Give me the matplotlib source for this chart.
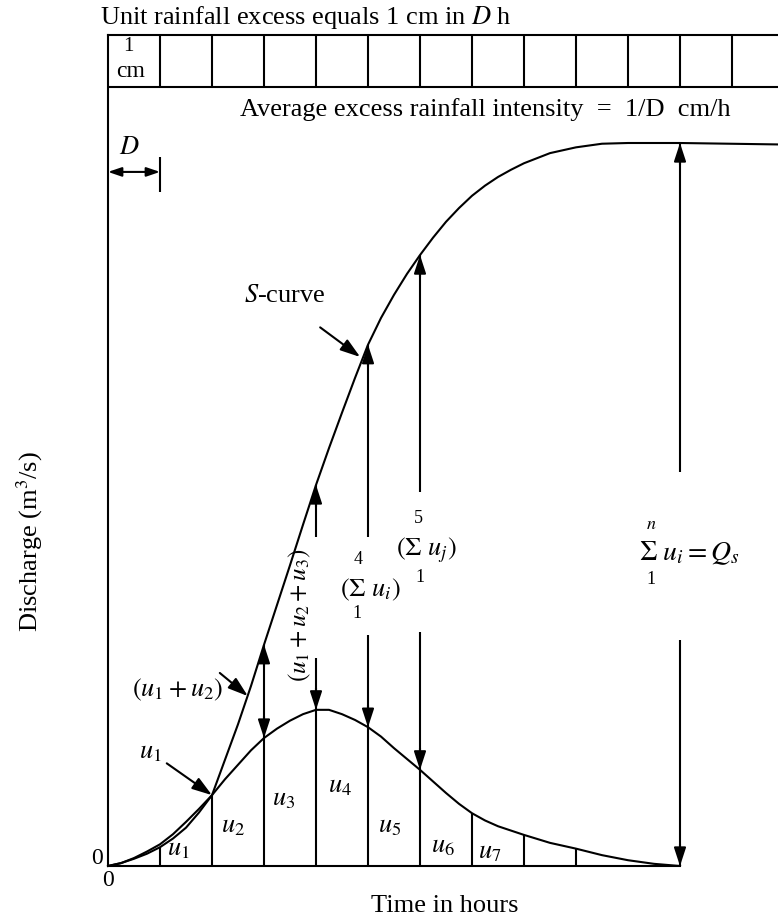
import matplotlib.pyplot as plt

plt.rcParams['font.family'] = ['Liberation Serif', 'DejaVu Serif']
plt.rcParams['mathtext.fontset'] = 'stix'

# time in multiples of the unit duration D
t = [0, 0.25, 0.5, 0.75, 1, 1.25, 1.5, 1.75, 2, 2.25, 2.5, 2.75, 3, 3.25,
     3.5, 3.75, 4, 4.25, 4.5, 4.75, 5, 5.25, 5.5, 5.75, 6, 6.25, 6.5, 6.75,
     7, 7.25, 7.5, 7.75, 8, 8.5, 9, 9.5, 10, 10.5, 11]
# D-h unit hydrograph ordinates (S-curve plateau Qs = 100)
uh = [0, 0.4, 1.0, 1.7, 2.6, 3.8, 5.3, 7.4, 9.8, 12.0, 14.0, 16.0, 17.7, 19.0,
      20.1, 21.0, 21.6, 21.6, 21.0, 20.2, 19.2, 17.9, 16.3, 14.8, 13.3, 11.7,
      10.1, 8.6, 7.3, 6.3, 5.5, 4.9, 4.3, 3.2, 2.4, 1.5, 0.8, 0.3, 0]
# S-curve ordinates, carried on past the end of the unit hydrograph
t_s = t + [12.9]
s_curve = [0, 0.4, 1.1, 2.0, 3.0, 4.4, 6.1, 7.9, 9.8, 14.7, 19.6, 24.9, 30.6,
           36.1, 41.6, 47.2, 52.7, 57.8, 62.7, 67.5, 72.1, 75.8, 79.0, 81.9,
           84.5, 86.9, 89.1, 91.0, 92.7, 94.1, 95.3, 96.3, 97.2, 98.6, 99.4,
           99.9, 100, 100, 100, 99.8]

uh_at = dict(zip(t, uh))
s_at = dict(zip(t_s, s_curve))

n_blocks = 13
strip_bottom = 107.7
lw = 1.5

fig = plt.figure(figsize=(7.78, 9.18), dpi=100)
ax = fig.add_axes([108 / 778, 52 / 918, 670 / 778, 831 / 918])
ax.set_xlim(0, 670 / 52)
ax.set_ylim(0, 831 / 7.23)
ax.set_xticks([])
ax.set_yticks([])
ax.spines['right'].set_visible(False)
for side in ['left', 'top', 'bottom']:
    ax.spines[side].set_linewidth(lw)
ax.spines['bottom'].set_bounds(0, 11)

# rainfall blocks of 1 cm in D h
ax.axhline(strip_bottom, color='k', lw=lw)
ax.vlines(range(1, n_blocks), strip_bottom, ax.get_ylim()[1], color='k', lw=lw)

# curves
ax.plot(t, uh, color='k', lw=lw)
ax.plot(t_s, s_curve, color='k', lw=lw, clip_on=False)

head_style = '-|>,head_length=0.55,head_width=0.18'


def head(x, y, up=True):
    ax.annotate('', xy=(x, y), xytext=(x, y - 3 if up else y + 3),
                arrowprops=dict(arrowstyle=head_style, color='k', lw=lw,
                                mutation_scale=20, shrinkA=0, shrinkB=0))


# plain ordinates of the unit hydrograph
for k in [1, 2, 7, 8, 9]:
    ax.vlines(k, 0, uh_at[k], color='k', lw=lw)

# S-curve ordinates, broken where the sum labels sit
ax.vlines(3, 0, s_at[3], color='k', lw=lw)
gaps = {4: (28.8, 45.5), 5: (32.0, 45.5), 6: (32.4, 51.7)}
for k, (lo, hi) in gaps.items():
    ax.vlines(k, 0, lo, color='k', lw=lw)
    ax.vlines(k, hi, s_at[k], color='k', lw=lw)
for k in [3, 4, 5, 6]:
    head(k, s_at[k], up=True)
    head(k, uh_at[k], up=False)

# total ordinate Qs
ax.vlines(11, 54.5, s_at[11], color='k', lw=lw)
ax.vlines(11, 0, 31.3, color='k', lw=lw)
head(11, s_at[11], up=True)
head(11, 0, up=False)

# D dimension
ax.annotate('', xy=(0, 96.0), xytext=(1, 96.0),
            arrowprops=dict(arrowstyle='<|-|>,head_length=0.5,head_width=0.17',
                            color='k', lw=lw, mutation_scale=16,
                            shrinkA=0, shrinkB=0))
ax.vlines(1, 93.2, 98.1, color='k', lw=lw)

# pointer arrows
pointers = [((4.08, 74.5), (4.85, 70.4)),
            ((2.15, 26.7), (2.69, 23.5)),
            ((1.13, 14.2), (2.0, 9.8))]
for tail, tip in pointers:
    ax.annotate('', xy=tip, xytext=tail,
                arrowprops=dict(arrowstyle=head_style, color='k', lw=lw,
                                mutation_scale=22, shrinkA=0, shrinkB=0))

fs = 19
ax.text(-0.154, 117.4, r'Unit rainfall excess equals 1 cm in $D$ h',
        fontsize=fs, ha='left', va='center')
ax.text(0.40, 113.4, '1', fontsize=15, ha='center', va='center')
ax.text(0.44, 109.9, 'cm', fontsize=17, ha='center', va='center')
ax.text(2.54, 104.6, 'Average excess rainfall intensity  =  1/D  cm/h',
        fontsize=fs, ha='left', va='center')
ax.text(0.42, 99.3, r'$D$', fontsize=fs, ha='center', va='center')

ax.text(3.40, 78.8, r'$S$-curve', fontsize=fs, ha='center', va='center')
ax.text(1.33, 24.3, r'$(u_1 + u_2)$', fontsize=fs, ha='center', va='center')
ax.text(0.81, 15.6, r'$u_1$', fontsize=fs, ha='center', va='center')
ax.text(3.69, 34.7, r'$(u_1 + u_2 + u_3)$', fontsize=18, rotation=90,
        ha='center', va='center')

# sum labels
ax.text(4.81, 42.4, '4', fontsize=13, ha='center', va='center')
ax.text(5.04, 38.2, r'$(\Sigma\ u_i)$', fontsize=fs, ha='center', va='center')
ax.text(4.79, 34.9, '1', fontsize=13, ha='center', va='center')
ax.text(5.96, 48.0, '5', fontsize=13, ha='center', va='center')
ax.text(6.13, 43.7, r'$(\Sigma\ u_j)$', fontsize=fs, ha='center', va='center')
ax.text(6.00, 39.9, '1', fontsize=13, ha='center', va='center')
ax.text(10.44, 47.3, r'$n$', fontsize=13, ha='center', va='center')
ax.text(10.22, 43.3, r'$\Sigma\ u_i = Q_s$', fontsize=20, ha='left', va='center')
ax.text(10.44, 39.6, '1', fontsize=13, ha='center', va='center')

# ordinate names between the lines
bay_labels = [r'$u_1$', r'$u_2$', r'$u_3$', r'$u_4$', r'$u_5$', r'$u_6$', r'$u_7$']
bay_x = [1.35, 2.40, 3.37, 4.46, 5.42, 6.44, 7.35]
bay_y = [2.2, 5.4, 9.1, 10.9, 5.4, 2.6, 1.8]
for lab, bx, by in zip(bay_labels, bay_x, bay_y):
    ax.text(bx, by, lab, fontsize=fs, ha='center', va='center')

ax.text(-0.10, 1.1, '0', fontsize=17, ha='right', va='center')
ax.text(0.0, -2.0, '0', fontsize=17, ha='center', va='center')

ax.set_ylabel('Discharge (m$^3$/s)', fontsize=fs)
ax.yaxis.set_label_coords(-0.094, 0.39)
ax.set_xlabel('Time in hours', fontsize=fs)
ax.xaxis.set_label_coords(0.503, -0.035)

fig.savefig('out.png', dpi=100)
